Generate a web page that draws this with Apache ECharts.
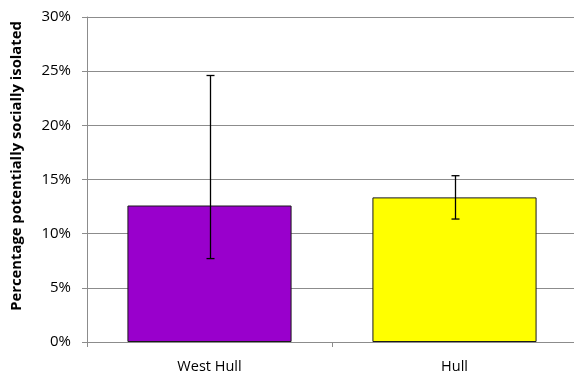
<!DOCTYPE html>
<html lang="en">
<head>
    <meta charset="UTF-8">
    <title>Social isolation</title>
    <script src="https://cdn.jsdelivr.net/npm/echarts@6/dist/echarts.min.js"></script>
    <style>
        html, body {margin: 0; padding: 0; background: #fff;}
        #chart {width: 574px; height: 373px;}
    </style>
</head>
<body>
<div id="chart"></div>
<script>
    // data (percent)
    const categories = ['West Hull', 'Hull']
    const values = [12.6, 13.35]
    const errLow = [7.7, 11.35]
    const errHigh = [24.6, 15.35]
    const barColors = ['#9900CC', '#FFFF00']

    const myChart = echarts.init(document.getElementById('chart'))

    const option = {
        animation: false,
        grid: {
            left: 87,
            right: -3,
            top: 17,
            bottom: 31,
            outerBoundsMode: 'none'
        },
        xAxis: {
            type: 'category',
            data: categories,
            axisLine: {lineStyle: {color: '#8c8c8c', width: 1}},
            axisTick: {show: true, length: 5, lineStyle: {color: '#8c8c8c'}},
            axisLabel: {
                color: '#000',
                fontFamily: 'Open Sans',
                fontSize: 14.5,
                margin: 17
            }
        },
        yAxis: {
            type: 'value',
            min: 0,
            max: 30,
            interval: 5,
            name: 'Percentage potentially socially isolated',
            nameLocation: 'middle',
            nameGap: 63,
            nameTextStyle: {
                color: '#000',
                fontFamily: 'Open Sans',
                fontWeight: 'bold',
                fontSize: 14.8,
                padding: [0, 0, 0, 27]
            },
            axisLine: {show: true, lineStyle: {color: '#8c8c8c'}},
            axisTick: {show: true, length: 5, lineStyle: {color: '#8c8c8c'}},
            splitLine: {lineStyle: {color: '#8c8c8c', width: 1}},
            axisLabel: {
                color: '#000',
                fontFamily: 'Open Sans',
                fontSize: 15,
                margin: 16,
                formatter: value => value + '%'
            }
        },
        series: [
            {
                type: 'bar',
                barWidth: '67%',
                data: values.map((v, i) => ({
                    value: v,
                    itemStyle: {color: barColors[i], borderColor: '#1a1a1a', borderWidth: 1}
                }))
            },
            {
                type: 'custom',
                z: 10,
                data: categories.map((c, i) => [i, errLow[i], errHigh[i]]),
                renderItem: function (params, api) {
                    const lo = api.coord([api.value(0), api.value(1)])
                    const hi = api.coord([api.value(0), api.value(2)])
                    const x = Math.round(lo[0]) + 0.5
                    const cap = 4
                    const style = {stroke: '#000', lineWidth: 1.3}
                    return {
                        type: 'group',
                        children: [
                            {type: 'line', shape: {x1: x, y1: hi[1], x2: x, y2: lo[1]}, style: style},
                            {type: 'line', shape: {x1: x - cap, y1: hi[1], x2: x + cap, y2: hi[1]}, style: style},
                            {type: 'line', shape: {x1: x - cap, y1: lo[1], x2: x + cap, y2: lo[1]}, style: style}
                        ]
                    }
                }
            }
        ]
    }

    myChart.setOption(option)
</script>
</body>
</html>
